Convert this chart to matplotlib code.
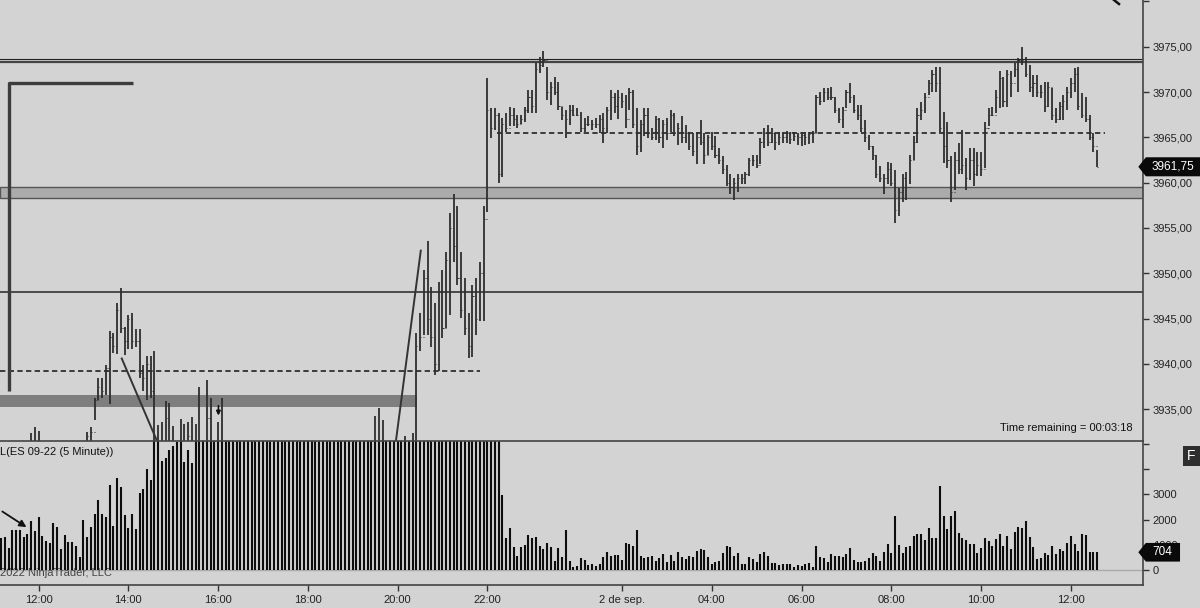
import matplotlib
matplotlib.use("Agg")
import matplotlib.pyplot as plt
import numpy as np
from matplotlib.patches import Polygon, Rectangle
from matplotlib.lines import Line2D
from matplotlib.transforms import blended_transform_factory

BG = "#d3d3d3"
BAR = "#2e2e2e"
plt.rcParams["font.family"] = ["Liberation Sans", "DejaVu Sans"]

# --- 5 minute ES 09-22 bars (index 0 = 11:10) ---
high = [
    3929.5, 3928.5, 3927.5, 3928.0, 3929.0, 3930.0, 3929.5, 3930.5, 3932.4, 3933.0,
    3932.6, 3930.0, 3928.5, 3927.0, 3926.5, 3925.0, 3926.0, 3927.5, 3928.5, 3929.0,
    3930.0, 3930.5, 3930.0, 3932.5, 3933.0, 3936.2, 3938.5, 3938.5, 3939.9, 3943.6,
    3943.4, 3946.7, 3948.4, 3944.1, 3945.4, 3945.6, 3943.9, 3943.9, 3939.9, 3940.9,
    3940.9, 3941.4, 3933.3, 3933.6, 3935.9, 3935.7, 3933.2, 3930.5, 3933.9, 3933.4,
    3933.6, 3934.2, 3933.4, 3937.5, 3931.0, 3938.2, 3936.2, 3930.5, 3933.6, 3936.2,
    3929.0, 3924.0, 3920.0, 3917.0, 3922.0, 3926.0, 3923.0, 3927.0, 3929.0, 3925.0,
    3921.0, 3924.0, 3928.0, 3930.0, 3927.0, 3923.0, 3920.0, 3918.0, 3921.0, 3919.0,
    3923.0, 3926.0, 3924.0, 3927.0, 3929.0, 3926.0, 3923.0, 3926.0, 3928.0, 3925.0,
    3922.0, 3925.0, 3928.0, 3930.0, 3927.0, 3929.0, 3926.0, 3929.0, 3930.5, 3928.0,
    3934.3, 3935.1, 3933.8, 3928.0, 3929.5, 3927.0, 3930.0, 3931.0, 3932.0, 3931.0,
    3932.4, 3943.4, 3945.6, 3950.4, 3953.6, 3948.5, 3946.7, 3949.0, 3950.4, 3952.3,
    3956.7, 3958.7, 3957.4, 3952.4, 3949.5, 3945.6, 3948.7, 3949.5, 3951.3, 3957.4,
    3971.5, 3968.2, 3968.2, 3967.7, 3967.1, 3967.7, 3968.4, 3968.2, 3967.5, 3967.5,
    3968.4, 3970.2, 3970.2, 3973.2, 3973.9, 3974.5, 3972.8, 3971.1, 3971.7, 3971.1,
    3968.4, 3968.0, 3968.6, 3968.6, 3968.2, 3967.8, 3967.1, 3967.3, 3966.9, 3967.1,
    3967.5, 3967.7, 3968.4, 3970.2, 3969.9, 3970.2, 3969.9, 3969.7, 3970.4, 3970.2,
    3968.2, 3966.9, 3968.2, 3968.2, 3966.0, 3967.3, 3967.1, 3966.9, 3967.1, 3968.0,
    3967.7, 3966.6, 3967.3, 3966.4, 3965.6, 3965.5, 3965.6, 3966.9, 3965.5, 3965.3,
    3965.6, 3965.1, 3963.8, 3962.9, 3962.0, 3961.0, 3960.5, 3961.0, 3961.0, 3961.2,
    3962.7, 3963.1, 3963.1, 3964.9, 3966.0, 3966.4, 3966.0, 3965.5, 3965.6, 3965.6,
    3965.7, 3965.6, 3965.6, 3965.5, 3965.6, 3965.6, 3965.6, 3965.7, 3969.7, 3970.0,
    3970.4, 3970.4, 3970.6, 3969.5, 3968.2, 3968.4, 3970.2, 3971.0, 3969.7, 3968.6,
    3968.6, 3966.9, 3965.3, 3964.0, 3963.1, 3961.8, 3961.0, 3962.3, 3962.2, 3961.4,
    3959.4, 3961.0, 3961.2, 3963.1, 3965.1, 3968.2, 3968.9, 3969.9, 3971.3, 3972.4,
    3972.8, 3972.8, 3967.8, 3966.7, 3962.9, 3963.4, 3964.4, 3965.8, 3962.7, 3963.8,
    3963.8, 3963.4, 3963.4, 3966.7, 3968.2, 3968.4, 3970.2, 3972.3, 3971.7, 3972.4,
    3972.3, 3973.2, 3973.7, 3975.0, 3973.9, 3973.0, 3971.9, 3971.9, 3970.8, 3971.1,
    3971.1, 3970.4, 3968.2, 3968.9, 3969.7, 3970.6, 3971.5, 3972.6, 3972.8, 3969.9,
    3969.5, 3967.5, 3965.5, 3963.6,
]
low = [
    3925.0, 3924.5, 3924.0, 3923.5, 3925.5, 3926.0, 3926.5, 3927.0, 3928.0, 3929.0,
    3927.5, 3926.0, 3924.5, 3923.0, 3921.5, 3921.0, 3922.5, 3924.0, 3925.0, 3925.5,
    3927.0, 3927.5, 3925.5, 3928.5, 3929.0, 3933.8, 3936.0, 3936.2, 3936.6, 3935.6,
    3941.2, 3941.1, 3943.4, 3941.0, 3941.6, 3941.6, 3941.9, 3938.5, 3937.0, 3936.0,
    3936.2, 3920.0, 3918.0, 3924.0, 3926.5, 3927.0, 3924.5, 3922.0, 3925.0, 3926.0,
    3925.5, 3927.0, 3921.0, 3922.0, 3919.0, 3920.0, 3924.0, 3915.0, 3912.0, 3918.0,
    3914.0, 3910.0, 3906.0, 3905.0, 3910.0, 3916.0, 3912.0, 3917.0, 3919.0, 3914.0,
    3911.0, 3914.0, 3918.0, 3921.0, 3917.0, 3913.0, 3909.0, 3907.0, 3911.0, 3908.0,
    3913.0, 3917.0, 3914.0, 3918.0, 3920.0, 3916.0, 3913.0, 3917.0, 3919.0, 3915.0,
    3912.0, 3916.0, 3918.0, 3921.0, 3917.0, 3920.0, 3916.0, 3919.0, 3922.0, 3919.0,
    3922.0, 3925.0, 3921.0, 3918.0, 3920.0, 3916.0, 3919.0, 3922.0, 3921.0, 3923.0,
    3922.0, 3927.0, 3941.4, 3943.2, 3943.2, 3941.9, 3938.8, 3939.2, 3942.9, 3944.0,
    3945.4, 3951.2, 3948.7, 3945.1, 3943.2, 3940.7, 3940.8, 3943.2, 3944.7, 3944.7,
    3956.8, 3964.9, 3965.8, 3960.0, 3960.6, 3965.6, 3966.2, 3966.2, 3966.0, 3966.5,
    3966.7, 3967.7, 3967.7, 3967.7, 3972.1, 3972.8, 3969.1, 3968.6, 3969.7, 3968.0,
    3966.9, 3964.9, 3966.4, 3967.3, 3967.3, 3965.6, 3965.6, 3966.2, 3965.8, 3966.0,
    3965.5, 3964.4, 3965.5, 3966.9, 3967.7, 3967.0, 3968.2, 3966.0, 3968.0, 3966.0,
    3963.1, 3963.4, 3965.1, 3964.9, 3964.7, 3964.7, 3964.4, 3963.8, 3964.7, 3965.6,
    3965.1, 3964.2, 3964.4, 3964.4, 3963.6, 3962.9, 3962.1, 3964.2, 3962.1, 3963.1,
    3963.6, 3962.7, 3962.1, 3960.9, 3959.6, 3958.8, 3958.1, 3959.0, 3959.8, 3959.9,
    3960.7, 3961.8, 3961.6, 3962.1, 3963.8, 3964.0, 3964.4, 3963.6, 3964.2, 3964.4,
    3964.4, 3964.3, 3964.6, 3964.2, 3964.0, 3964.2, 3964.3, 3964.4, 3965.5, 3968.6,
    3968.9, 3969.1, 3969.1, 3967.7, 3966.6, 3966.0, 3968.2, 3968.8, 3967.7, 3966.9,
    3965.6, 3964.5, 3963.6, 3962.5, 3960.5, 3960.1, 3958.8, 3959.8, 3959.6, 3955.5,
    3956.3, 3957.9, 3958.1, 3959.8, 3962.5, 3964.4, 3966.9, 3967.7, 3969.7, 3970.0,
    3970.0, 3965.6, 3962.2, 3961.6, 3957.9, 3959.2, 3960.9, 3961.0, 3959.2, 3960.3,
    3959.6, 3960.7, 3960.7, 3961.6, 3966.2, 3967.3, 3967.7, 3968.2, 3968.4, 3968.4,
    3969.5, 3971.7, 3970.0, 3973.0, 3971.7, 3970.0, 3969.5, 3969.5, 3969.3, 3967.8,
    3968.4, 3966.9, 3966.6, 3966.9, 3966.9, 3968.0, 3969.3, 3970.0, 3968.0, 3967.1,
    3966.7, 3964.7, 3963.4, 3961.75,
]
close = [
    3927.0, 3926.0, 3925.5, 3927.5, 3928.0, 3927.0, 3929.0, 3930.0, 3931.0, 3929.5,
    3928.0, 3926.5, 3925.0, 3924.0, 3922.5, 3924.0, 3925.5, 3926.5, 3927.0, 3928.5,
    3929.0, 3928.0, 3929.5, 3932.0, 3932.5, 3936.0, 3937.5, 3937.0, 3939.5, 3943.0,
    3942.0, 3946.0, 3944.0, 3942.5, 3945.0, 3942.5, 3942.5, 3939.0, 3938.5, 3940.0,
    3937.0, 3923.0, 3929.0, 3930.0, 3934.0, 3928.5, 3926.0, 3928.0, 3931.0, 3928.0,
    3932.0, 3929.0, 3925.0, 3930.0, 3922.0, 3934.0, 3926.0, 3918.0, 3930.0, 3921.0,
    3916.0, 3913.0, 3909.0, 3914.0, 3920.0, 3918.0, 3921.0, 3925.0, 3920.0, 3916.0,
    3919.0, 3922.0, 3926.0, 3923.0, 3919.0, 3915.0, 3912.0, 3916.0, 3913.0, 3917.0,
    3921.0, 3918.0, 3922.0, 3925.0, 3921.0, 3918.0, 3921.0, 3924.0, 3920.0, 3917.0,
    3920.0, 3923.0, 3926.0, 3922.0, 3925.0, 3921.0, 3924.0, 3927.0, 3924.0, 3926.0,
    3930.0, 3927.0, 3923.0, 3926.0, 3922.0, 3925.0, 3928.0, 3924.0, 3930.0, 3926.0,
    3931.0, 3942.0, 3943.0, 3949.5, 3945.0, 3943.0, 3940.0, 3948.0, 3944.0, 3951.5,
    3955.0, 3953.0, 3949.5, 3946.0, 3944.0, 3942.0, 3947.5, 3945.0, 3950.0, 3956.0,
    3968.0, 3966.0, 3967.5, 3961.0, 3966.5, 3966.0, 3967.5, 3967.0, 3966.5, 3967.0,
    3968.0, 3969.5, 3968.5, 3972.5, 3973.0, 3973.5, 3970.0, 3970.5, 3970.0, 3968.5,
    3967.5, 3967.0, 3968.0, 3967.5, 3967.5, 3966.0, 3966.5, 3966.5, 3966.5, 3966.5,
    3967.0, 3966.0, 3968.0, 3969.5, 3968.5, 3969.5, 3969.0, 3967.0, 3970.0, 3966.5,
    3964.0, 3966.5, 3967.5, 3965.5, 3965.0, 3967.0, 3965.0, 3966.5, 3965.5, 3967.5,
    3965.5, 3966.0, 3965.0, 3965.5, 3964.0, 3963.5, 3965.0, 3964.5, 3963.0, 3965.0,
    3964.0, 3963.0, 3962.5, 3961.5, 3960.0, 3959.5, 3960.0, 3960.5, 3960.5, 3961.0,
    3962.5, 3962.5, 3962.0, 3964.5, 3965.5, 3964.5, 3965.5, 3964.5, 3965.0, 3965.0,
    3965.5, 3964.8, 3965.2, 3965.0, 3965.3, 3965.0, 3965.4, 3965.5, 3969.5, 3969.0,
    3970.0, 3969.5, 3969.5, 3968.0, 3967.0, 3968.0, 3970.0, 3969.5, 3968.0, 3967.5,
    3966.0, 3965.0, 3964.0, 3963.0, 3961.0, 3960.5, 3960.5, 3961.5, 3960.0, 3957.0,
    3959.0, 3960.5, 3959.5, 3962.5, 3964.5, 3967.5, 3968.0, 3969.5, 3971.0, 3972.0,
    3971.0, 3966.0, 3964.0, 3962.5, 3959.0, 3962.5, 3961.5, 3962.0, 3960.5, 3962.5,
    3961.0, 3962.0, 3961.5, 3966.0, 3967.5, 3967.5, 3969.5, 3971.5, 3969.0, 3972.0,
    3971.0, 3972.5, 3973.5, 3973.5, 3972.0, 3970.5, 3971.0, 3970.0, 3970.0, 3968.5,
    3970.5, 3967.5, 3967.0, 3968.5, 3969.0, 3970.0, 3971.0, 3972.0, 3968.5, 3967.5,
    3967.0, 3965.0, 3964.0, 3961.75,
]
volume = [
    1257, 1323, 860, 1588, 1588, 1588, 1323, 1416, 1945, 1548,
    2090, 1363, 1151, 1058, 1852, 1693, 833, 1376, 1098, 1098,
    952, 503, 1984, 1296, 1693, 2222, 2778, 2222, 2117, 3360,
    1746, 3638, 3281, 2170, 1667, 2222, 1614, 3069, 3215, 4009,
    3572, 9800, 7400, 4339, 4432, 4763, 4922, 5090, 5100, 4300,
    4763, 4234, 21400, 18600, 15200, 17900, 14300, 16800, 25700, 19300,
    15800, 13900, 16400, 14700, 12800, 13500, 11900, 12600, 10800, 11700,
    9900, 10600, 9400, 10100, 8800, 9300, 8600, 9700, 8200, 8900,
    7800, 8400, 7600, 8100, 7400, 7900, 7200, 8300, 7700, 8600,
    7300, 8000, 7500, 8200, 7800, 8700, 8100, 9000, 8500, 9400,
    10200, 9600, 9800, 10500, 9900, 11200, 10400, 11800, 12500, 11900,
    13100, 16800, 14200, 15600, 13800, 12900, 14700, 13400, 15100, 16300,
    17800, 16900, 15400, 14800, 13900, 15700, 16600, 18400, 21300, 24800,
    31500, 12400, 8900, 7200, 2977, 1283, 1654, 900, 556, 926,
    992, 1389, 1283, 1310, 952, 833, 1085, 926, 370, 860,
    503, 1588, 370, 132, 159, 463, 397, 185, 238, 159,
    238, 503, 728, 556, 595, 595, 397, 1058, 1032, 952,
    1588, 556, 463, 503, 556, 370, 463, 635, 318, 595,
    370, 728, 529, 437, 556, 503, 767, 820, 794, 529,
    238, 318, 370, 662, 952, 900, 556, 688, 225, 238,
    503, 437, 318, 635, 728, 556, 265, 265, 185, 238,
    238, 238, 132, 185, 159, 225, 265, 106, 952, 529,
    490, 304, 622, 556, 542, 503, 635, 860, 397, 318,
    318, 370, 463, 661, 556, 370, 728, 1019, 688, 2143,
    992, 688, 900, 952, 1363, 1416, 1416, 1190, 1654, 1257,
    1283, 3350, 2143, 1627, 2143, 2341, 1455, 1257, 1190, 1032,
    1032, 661, 860, 1283, 1151, 952, 1230, 1429, 952, 1363,
    820, 1495, 1720, 1680, 1945, 1296, 900, 437, 463, 688,
    595, 966, 635, 833, 767, 1085, 1349, 1019, 754, 1416,
    1389, 701, 701, 704,
]

tick_bars = [10, 34, 58, 82, 106, 130, 166, 190, 214, 238, 262, 286]
tick_labels = ["12:00", "14:00", "16:00", "18:00", "20:00", "22:00",
               "2 de sep.", "04:00", "06:00", "08:00", "10:00", "12:00"]

# drawn levels / objects (price units, bar index units)
upper_double = [3973.65, 3973.3]
grey_zone = [3958.3, 3959.55]
solid_level = 3947.95
dash_low = [3939.25, -0.3, 128.1]
dash_high = [3965.45, 132.5, 295.2]
dark_zone = [3935.3, 3936.6, 111.1]
corner_x = [1.98, 1.98, 35.3]
corner_y = [3937.0, 3971.0, 3971.0]
trend_a = [[32.25, 42.2], [3940.6, 3931.0]]
trend_b = [[105.4, 112.2], [3931.0, 3952.5]]
price_ticks = [3935, 3940, 3945, 3950, 3955, 3960, 3965, 3970, 3975]
vol_ticks = [0, 1000, 2000, 3000, 4000, 5000]

fig = plt.figure(figsize=(12, 6.08), dpi=100, facecolor=BG)
ax = fig.add_axes([0, 167 / 608, 1143 / 1200, 441 / 608], facecolor=BG)
axv = fig.add_axes([0, 23 / 608, 1143 / 1200, 144 / 608], facecolor=BG)

idx = np.arange(len(high))
opens = np.r_[close[0], close[:-1]]

# ---------------- price panel ----------------
ax.axhspan(dark_zone[0], dark_zone[1], xmin=0, xmax=(dark_zone[2] + 0.3) / 305.6,
           color="#7e7e7e", lw=0, zorder=1)
ax.axhspan(grey_zone[0], grey_zone[1], fc="#ababab", ec="#555555", lw=1, zorder=1)
ax.axhline(upper_double[0], color="#222222", lw=0.8, zorder=1)
ax.axhline(upper_double[1], color="#444444", lw=1.6, zorder=1)
ax.axhline(solid_level, color="#333333", lw=1.2, zorder=1)
ax.hlines(dash_low[0], dash_low[1], dash_low[2], color="#222222", lw=1.2,
          linestyles=(0, (3.2, 2.0)), zorder=1)
ax.hlines(dash_high[0], dash_high[1], dash_high[2], color="#222222", lw=1.2,
          linestyles=(0, (3.2, 2.0)), zorder=1)

ax.vlines(idx, low, high, color=BAR, lw=1.3, zorder=3)
ax.hlines(opens, idx - 0.3, idx, color=BAR, lw=0.7, zorder=3)
ax.hlines(close, idx, idx + 0.3, color=BAR, lw=0.7, zorder=3)

ax.plot(corner_x, corner_y, color="#3c3c3c", lw=2.4, solid_capstyle="butt", zorder=4)
ax.plot(trend_a[0], trend_a[1], color="#333333", lw=1.4, zorder=4)
ax.plot(trend_b[0], trend_b[1], color="#333333", lw=1.4, zorder=4)
ax.annotate("", xy=(58.1, 3934.0), xytext=(58.1, 3935.7),
            arrowprops=dict(arrowstyle="-|>", color="#111111", lw=1.2, mutation_scale=6))

ax.set_xlim(-0.3, 305.3)
ax.set_ylim(3931.5, 3980.15)
ax.yaxis.tick_right()
ax.set_yticks(price_ticks + [3980])
ax.set_yticklabels([f"{v:.2f}".replace(".", ",") for v in price_ticks] + [""])
ax.tick_params(axis="y", length=4, width=1, color="#333333", labelsize=8,
               labelcolor="#222222", pad=3)
ax.tick_params(axis="x", bottom=False, labelbottom=False)
for s in ["top", "left", "bottom"]:
    ax.spines[s].set_visible(False)
ax.spines["right"].set_color("#444444")
ax.spines["right"].set_linewidth(1.2)

ax.text(1133 / 1143, 1 - 428 / 441, "Time remaining = 00:03:18", transform=ax.transAxes,
        ha="right", va="center", fontsize=8, color="#111111")

# last price marker
bt = blended_transform_factory(ax.transAxes, ax.transData)
last = close[-1]
ax.add_patch(Polygon([(0.9959, last), (1.0025, last + 1.05), (1.05, last + 1.05),
                      (1.05, last - 1.05), (1.0025, last - 1.05)], closed=True,
                     transform=bt, fc="#0a0a0a", ec="none", clip_on=False, zorder=6))
ax.text(1.0265, last, f"{last:.2f}".replace(".", ","), transform=bt, ha="center",
        va="center", color="white", fontsize=8.5, zorder=7, clip_on=False)

# ---------------- volume panel ----------------
axv.axhline(0, color="#aaaaaa", lw=1, zorder=0)
axv.text(0.0, (585 - 572.5) / 144, "2022 NinjaTrader, LLC", transform=axv.transAxes,
         ha="left", va="center", fontsize=8, color="#444444", zorder=1)
axv.vlines(idx, 0, volume, color="#0d0d0d", lw=1.5, zorder=2)
axv.text(0.0, (585 - 452) / 144, "L(ES 09-22 (5 Minute))", transform=axv.transAxes,
         ha="left", va="center", fontsize=8, color="#111111", zorder=5)
axv.annotate("", xy=(7.4, 1640), xytext=(-0.3, 2381),
             arrowprops=dict(arrowstyle="-|>", color="#111111", lw=1.3, mutation_scale=10))

axv.set_xlim(-0.3, 305.3)
axv.set_ylim(-595, 5119)
axv.yaxis.tick_right()
axv.set_yticks(vol_ticks)
axv.set_yticklabels(["0", "1000", "2000", "3000", "", ""])
axv.tick_params(axis="y", length=4, width=1, color="#333333", labelsize=8,
                labelcolor="#222222", pad=3)
axv.set_xticks(tick_bars)
axv.set_xticklabels(tick_labels)
axv.tick_params(axis="x", length=4, width=1, color="#333333", labelsize=8,
                labelcolor="#222222", pad=3)
axv.spines["left"].set_visible(False)
for s in ["top", "bottom", "right"]:
    axv.spines[s].set_color("#444444")
    axv.spines[s].set_linewidth(1.2)

bv = blended_transform_factory(axv.transAxes, axv.transData)
lv = volume[-1]
axv.add_patch(Polygon([(0.9959, lv), (1.0025, lv + 370), (1.0324, lv + 370),
                       (1.0324, lv - 370), (1.0025, lv - 370)], closed=True,
                      transform=bv, fc="#0a0a0a", ec="none", clip_on=False, zorder=6))
axv.text(1.0165, lv, str(lv), transform=bv, ha="center", va="center",
         color="white", fontsize=8.5, zorder=7, clip_on=False)

# "F" box and top-right mark
fig.patches.append(Rectangle((1183 / 1200, 1 - 466 / 608), 17 / 1200, 20 / 608,
                             transform=fig.transFigure, fc="#2e2e2e", ec="none"))
fig.text(1191.5 / 1200, 1 - 456 / 608, "F", color="white", fontsize=10,
         ha="center", va="center")
fig.lines.append(Line2D([1114 / 1200, 1119 / 1200], [1.0, 1 - 4 / 608],
                        transform=fig.transFigure, color="#111111", lw=1.8))

fig.savefig("out.png", dpi=100, facecolor=BG)
